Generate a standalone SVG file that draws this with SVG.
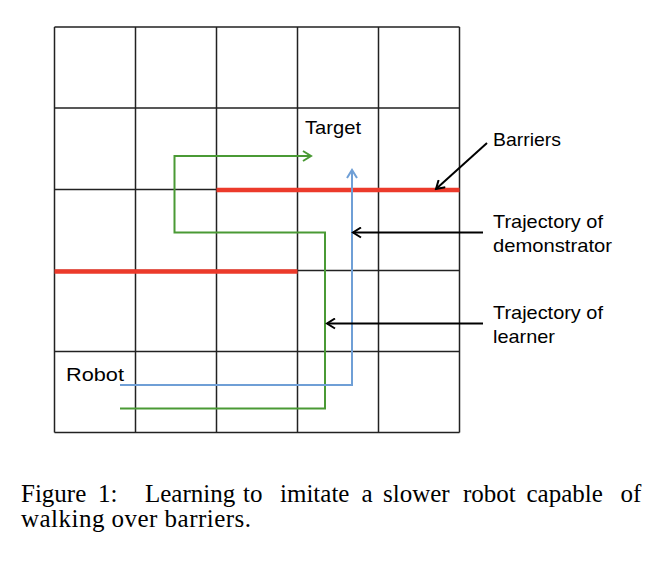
<svg xmlns="http://www.w3.org/2000/svg" width="664" height="568" viewBox="0 0 664 568">
<style>
.grid{stroke:#222;stroke-width:1.5;fill:none}
.bar{stroke:#ec3a2b;stroke-width:4.5;fill:none}
.g{stroke:#4a9a35;stroke-width:2;fill:none}
.b{stroke:#6f9fd6;stroke-width:2;fill:none}
.k{stroke:#000;stroke-width:2;fill:none}
.lbl{font-family:"Liberation Sans",Arial,sans-serif;font-size:19px;fill:#000}
.cap{font-family:"Liberation Serif","Times New Roman",serif;font-size:25px;fill:#000}
</style>
<defs>
<marker id="ag" markerWidth="12" markerHeight="12" refX="10" refY="6" orient="auto" markerUnits="userSpaceOnUse"><path d="M2,1 L10,6 L2,11" stroke="#4a9a35" stroke-width="2" fill="none"/></marker>
<marker id="ab" markerWidth="12" markerHeight="12" refX="10" refY="6" orient="auto" markerUnits="userSpaceOnUse"><path d="M2,1 L10,6 L2,11" stroke="#6f9fd6" stroke-width="2" fill="none"/></marker>
<marker id="ak" markerWidth="12" markerHeight="12" refX="10" refY="6" orient="auto" markerUnits="userSpaceOnUse"><path d="M2,1 L10,6 L2,11" stroke="#000" stroke-width="2" fill="none"/></marker>
</defs>
<rect width="664" height="568" fill="#fff"/>
<g id="grid" class="grid">
<path d="M54.5,27 V432.5 M135.5,27 V432.5 M216.5,27 V432.5 M297.5,27 V432.5 M378.5,27 V432.5 M459.5,27 V432.5"/>
<path d="M54.5,27 H459.5 M54.5,108 H459.5 M54.5,189.5 H459.5 M54.5,270.5 H459.5 M54.5,351.5 H459.5 M54.5,432.5 H459.5"/>
</g>
<g id="barriers">
<line class="bar" x1="216.5" y1="190" x2="459.5" y2="190"/>
<line class="bar" x1="54.5" y1="271.5" x2="297.5" y2="271.5"/>
</g>
<g id="connectors">
<polyline id="learner-path" class="g" points="120,408.5 325,408.5 325,232.5 174.5,232.5 174.5,156 311,156" marker-end="url(#ag)"/>
<polyline id="demo-path" class="b" points="120,385 352,385 352,170" marker-end="url(#ab)"/>
<line class="k" x1="487" y1="143" x2="436" y2="189" marker-end="url(#ak)"/>
<line class="k" x1="483" y1="232.5" x2="353" y2="232.5" marker-end="url(#ak)"/>
<line class="k" x1="483" y1="323.5" x2="327" y2="323.5" marker-end="url(#ak)"/>
</g>
<g id="target"><text class="lbl" x="305" y="134" textLength="56" lengthAdjust="spacingAndGlyphs">Target</text></g>
<g id="robot"><text class="lbl" x="66" y="381" textLength="58" lengthAdjust="spacingAndGlyphs">Robot</text></g>
<g id="barriers-label"><text class="lbl" x="493" y="146" textLength="68" lengthAdjust="spacingAndGlyphs">Barriers</text></g>
<g id="demonstrator-label"><text class="lbl" x="493" y="228" textLength="110" lengthAdjust="spacingAndGlyphs">Trajectory of</text><text class="lbl" x="493" y="252" textLength="119" lengthAdjust="spacingAndGlyphs">demonstrator</text></g>
<g id="learner-label"><text class="lbl" x="493" y="319" textLength="110" lengthAdjust="spacingAndGlyphs">Trajectory of</text><text class="lbl" x="493" y="343" textLength="62" lengthAdjust="spacingAndGlyphs">learner</text></g>
<g id="caption">
<text class="cap" y="501.5"><tspan x="21">Figure</tspan> <tspan x="98">1:</tspan> <tspan x="145">Learning</tspan> <tspan x="243">to</tspan> <tspan x="280">imitate</tspan> <tspan x="361.5">a</tspan> <tspan x="383">slower</tspan> <tspan x="463">robot</tspan> <tspan x="526.5">capable</tspan> <tspan x="620.5">of</tspan></text>
<text class="cap" x="21" y="526.5" textLength="230">walking over barriers.</text>
</g>
</svg>
